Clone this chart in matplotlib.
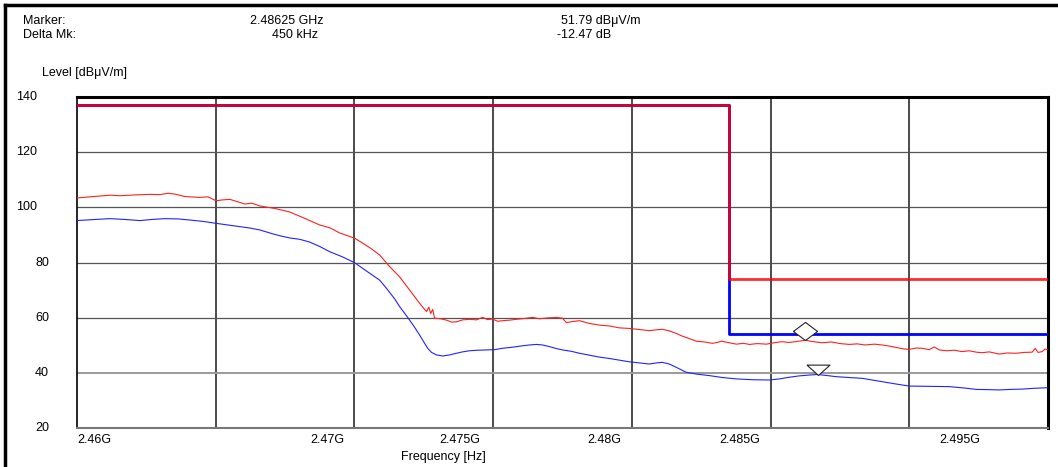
import numpy as np
import matplotlib.pyplot as plt
from matplotlib.lines import Line2D
from matplotlib import transforms

plt.rcParams['font.family'] = ['Liberation Sans', 'DejaVu Sans']

# Peak trace (red), frequency in MHz, level in dBuV/m
peak_f = [2460.00, 2460.47, 2460.83, 2461.19, 2461.55, 2462.09, 2462.63, 2462.99, 2463.28, 2463.53,
          2463.89, 2464.43, 2464.72, 2465.01, 2465.26, 2465.51, 2466.05, 2466.30, 2466.59, 2467.13,
          2467.67, 2468.21, 2468.75, 2469.11, 2469.47, 2470.01, 2470.30, 2470.62, 2470.91, 2471.27,
          2471.63, 2471.99, 2472.35, 2472.53, 2472.60, 2472.68, 2472.75, 2472.82, 2472.89, 2473.11,
          2473.32, 2473.50, 2473.68, 2473.90, 2474.15, 2474.40, 2474.62, 2474.80, 2474.98, 2475.16,
          2475.34, 2475.59, 2475.84, 2476.13, 2476.42, 2476.67, 2476.96, 2477.28, 2477.50, 2477.64,
          2477.86, 2478.11, 2478.47, 2478.83, 2479.19, 2479.55, 2479.91, 2480.27, 2480.63, 2480.89,
          2481.10, 2481.35, 2481.60, 2481.82, 2482.07, 2482.32, 2482.61, 2482.90, 2483.08, 2483.23,
          2483.51, 2483.77, 2484.02, 2484.24, 2484.52, 2484.85, 2485.13, 2485.41, 2485.67, 2485.96,
          2486.25, 2486.54, 2486.86, 2487.19, 2487.51, 2487.84, 2488.12, 2488.41, 2488.74, 2489.02,
          2489.28, 2489.53, 2489.78, 2490.00, 2490.25, 2490.46, 2490.72, 2490.90, 2491.08, 2491.36,
          2491.62, 2491.90, 2492.16, 2492.41, 2492.63, 2492.88, 2493.24, 2493.53, 2493.85, 2494.14,
          2494.43, 2494.54, 2494.64, 2494.79, 2494.89, 2494.97]
peak_v = [103.4, 103.8, 104.1, 104.4, 104.2, 104.5, 104.7, 104.6, 105.1, 104.8,
          103.9, 103.6, 103.8, 102.4, 102.7, 102.9, 101.2, 101.5, 100.5, 99.6,
          98.3, 96.0, 93.6, 92.6, 90.7, 88.8, 87.0, 84.9, 82.7, 78.5,
          74.8, 70.0, 65.2, 63.0, 62.2, 63.8, 61.5, 63.0, 59.8, 59.6,
          59.1, 58.4, 58.5, 59.2, 59.4, 59.2, 60.1, 59.3, 59.5, 58.7,
          58.9, 59.1, 59.4, 59.7, 60.1, 59.6, 59.9, 60.1, 59.8, 58.2,
          58.6, 58.9, 57.9, 57.3, 57.0, 56.3, 56.1, 55.7, 55.3, 55.6,
          55.8, 55.2, 54.3, 53.3, 52.4, 51.5, 51.2, 50.7, 51.0, 51.5,
          50.9, 50.4, 50.7, 50.3, 50.6, 50.4, 50.9, 51.3, 51.0, 51.4,
          51.8, 51.3, 50.9, 51.2, 50.6, 50.3, 50.5, 50.1, 50.4, 50.1,
          49.7, 49.2, 48.7, 48.5, 49.0, 48.9, 48.4, 49.4, 48.3, 48.0,
          48.2, 47.7, 48.0, 47.5, 47.3, 47.6, 46.8, 47.2, 47.1, 47.4,
          47.5, 48.9, 47.4, 47.7, 48.6, 48.4]

# Average trace (blue)
avg_f = [2460.00, 2460.65, 2461.19, 2461.73, 2462.27, 2462.70, 2463.17, 2463.64, 2464.07, 2464.54,
         2465.01, 2465.44, 2465.87, 2466.23, 2466.59, 2466.95, 2467.31, 2467.67, 2468.03, 2468.39,
         2468.75, 2469.11, 2469.58, 2470.01, 2470.55, 2470.91, 2471.16, 2471.45, 2471.63, 2471.81,
         2471.99, 2472.17, 2472.35, 2472.50, 2472.64, 2472.78, 2472.96, 2473.18, 2473.43, 2473.68,
         2473.90, 2474.15, 2474.44, 2474.76, 2475.05, 2475.34, 2475.70, 2476.06, 2476.31, 2476.56,
         2476.78, 2477.03, 2477.28, 2477.50, 2477.82, 2478.11, 2478.47, 2478.83, 2479.19, 2479.55,
         2479.91, 2480.27, 2480.63, 2480.89, 2481.10, 2481.35, 2481.64, 2481.96, 2482.36, 2482.79,
         2483.26, 2483.77, 2484.34, 2484.96, 2485.32, 2485.67, 2486.04, 2486.40, 2486.69, 2487.05,
         2487.37, 2487.84, 2488.31, 2488.66, 2489.02, 2489.49, 2490.00, 2490.72, 2491.44, 2491.98,
         2492.41, 2492.88, 2493.24, 2493.67, 2494.07, 2494.50, 2494.97]
avg_v = [95.2, 95.6, 95.9, 95.6, 95.2, 95.6, 95.9, 95.8, 95.4, 94.9,
         94.2, 93.6, 93.0, 92.5, 91.8, 90.7, 89.7, 88.9, 88.4, 87.4,
         85.8, 83.9, 82.0, 79.9, 76.1, 73.6, 70.6, 66.8, 64.0, 61.6,
         59.1, 56.5, 53.7, 51.2, 48.9, 47.4, 46.5, 46.1, 46.5, 47.1,
         47.6, 48.0, 48.2, 48.3, 48.4, 48.9, 49.3, 49.8, 50.1, 50.3,
         50.1, 49.5, 48.8, 48.3, 47.8, 47.1, 46.4, 45.7, 45.2, 44.6,
         44.0, 43.6, 43.2, 43.6, 43.8, 43.2, 41.8, 40.2, 39.5, 39.0,
         38.3, 37.8, 37.5, 37.4, 37.8, 38.4, 38.9, 39.2, 39.4, 39.0,
         38.6, 38.3, 38.0, 37.4, 36.8, 36.0, 35.2, 35.1, 35.0, 34.5,
         34.0, 33.9, 33.8, 34.0, 34.1, 34.4, 34.6]

# Limit lines
lim_f = [2460.0, 2483.5, 2483.5, 2495.0]
peak_lim_v = [137, 137, 74, 74]
avg_lim_v = [137, 137, 54, 54]

# Markers
marker_f, marker_v = 2486.25, 51.79
delta_f, delta_v = 0.45, -12.47

y_ticks = [20, 40, 60, 80, 100, 120, 140]
x_grid = [2460, 2465, 2470, 2475, 2480, 2485, 2490, 2495]
x_labels = ['2.46G', '2.47G', '2.475G', '2.48G', '2.485G', '2.495G']
x_label_px = [77, 327, 460, 604, 740, 960]

W, H = 1058, 467
def px(x):
    return x / W
def py(y):
    return 1 - y / H

fig = plt.figure(figsize=(W / 100, H / 100), dpi=100)
ax = fig.add_axes([px(77), py(428), (1048 - 77) / W, (428 - 97) / H])

ax.set_xlim(2.46, 2.495)
ax.set_ylim(20, 140)
ax.set_xticks([])
ax.set_yticks([])

# grid
for f in x_grid[1:-1]:
    ax.axvline(f / 1000, color='#1a1a1a', lw=1.1, zorder=1)
for v in y_ticks[1:-1]:
    if v == 40:
        ax.axhline(v, color='#9a9a9a', lw=1.4, zorder=1)
    else:
        ax.axhline(v, color='#555555', lw=0.9, zorder=1)

# traces
ax.plot(np.array(avg_f) / 1000, avg_v, color='#2222ff', lw=0.8, zorder=3)
ax.plot(np.array(peak_f) / 1000, peak_v, color='#ff2020', lw=0.8, zorder=3)

# limits
ax.plot(np.array(lim_f) / 1000, avg_lim_v, color='#0000ff', lw=2.0, zorder=4)
ax.plot(np.array(lim_f) / 1000, peak_lim_v, color='#ff0000', lw=2.0, alpha=0.82, zorder=4)

# marker symbols
diamond = [(-1, 0.75), (0, 1.5), (1, 0.75), (0, 0), (-1, 0.75)]
triangle = [(-1, 0.9), (1, 0.9), (0, 0), (-1, 0.9)]
ax.plot([marker_f / 1000], [marker_v], marker=diamond, ms=26, mfc='white',
        mec='#222222', mew=0.8, ls='none', zorder=5)
ax.plot([(marker_f + delta_f) / 1000], [marker_v + delta_v], marker=triangle, ms=16.6,
        mfc='white', mec='#222222', mew=0.8, ls='none', zorder=5)

# spines
for s in ['top', 'right']:
    ax.spines[s].set_linewidth(2.2)
    ax.spines[s].set_color('black')
ax.spines['left'].set_linewidth(1.2)
ax.spines['left'].set_color('black')
ax.spines['bottom'].set_linewidth(1.5)
ax.spines['bottom'].set_color('#777777')

# tick labels
trans = transforms.blended_transform_factory(fig.transFigure, ax.transData)
for v in y_ticks:
    x = 37 if v >= 100 else 49
    ax.text(px(x), v, str(v), transform=trans, ha='right', va='center', fontsize=9)
for lab, x in zip(x_labels, x_label_px):
    fig.text(px(x), py(440), lab, ha='left' if x == 77 else 'center', va='center', fontsize=9)

fig.text(px(401), py(457), 'Frequency [Hz]', va='center', fontsize=9)
fig.text(px(42), py(73), 'Level [dBμV/m]', va='center', fontsize=9)

# header
fig.text(px(23), py(21), 'Marker:', va='center', fontsize=9)
fig.text(px(23), py(35), 'Delta Mk:', va='center', fontsize=9)
fig.text(px(250), py(21), '%.5f GHz' % (marker_f / 1000), va='center', fontsize=9)
fig.text(px(272), py(35), '%d kHz' % round(delta_f * 1000), va='center', fontsize=9)
fig.text(px(561), py(21), '%.2f dBμV/m' % marker_v, va='center', fontsize=9)
fig.text(px(557), py(35), '%.2f dB' % delta_v, va='center', fontsize=9)

# outer frame
fig.add_artist(Line2D([px(5), px(5)], [0, py(5)], lw=2.5, color='black'))
fig.add_artist(Line2D([px(5), 1], [py(5), py(5)], lw=2.5, color='black'))

fig.savefig('out.png', dpi=100)
